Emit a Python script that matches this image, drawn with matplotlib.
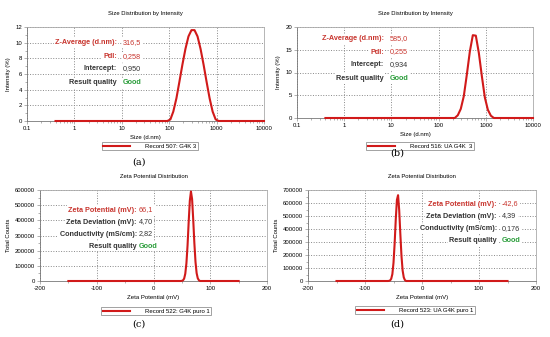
import matplotlib
matplotlib.use('Agg')
import matplotlib.pyplot as plt

plt.rcParams['font.family'] = ['Liberation Sans', 'DejaVu Sans']
plt.rcParams['axes.unicode_minus'] = False

W, H = 550, 337

# Size distribution (a): record 507 G4K 3
size_a = [0.4, 91.3, 106, 122, 142, 164, 190, 220, 255, 295, 342, 396, 459,
          531, 615, 712, 825, 955, 1106, 10000]
int_a = [0, 0, 0.2, 1.2, 2.9, 5.0, 7.2, 9.2, 10.8, 11.6, 11.6, 10.8, 9.2,
         7.2, 5.0, 2.9, 1.2, 0.2, 0, 0]

# Size distribution (b): record 516 UA G4K 3
size_b = [0.4, 220, 255, 295, 342, 396, 459, 531, 615, 712, 825, 955, 1106,
          1281, 1484, 10000]
int_b = [0, 0, 0.6, 2.0, 4.8, 9.5, 14.6, 18.2, 18.1, 14.3, 9.2, 4.5, 1.8,
         0.5, 0, 0]

# Zeta potential (c): record 522 G4K puro 1
zeta_c = [-150, 48, 50, 52, 54, 56, 58, 60, 62, 64, 66, 68, 70, 72, 74, 76,
          78, 80, 82, 150]
counts_c = [0, 0, 1000, 4400, 16000, 48000, 117000, 234000, 390000, 529000,
            590000, 540000, 405000, 250000, 126000, 52000, 18000, 5000, 0, 0]

# Zeta potential (d): record 523 UA G4K puro 1
zeta_d = [-150, -60, -58, -56, -54, -52, -50, -48, -46, -44, -42, -40, -38,
          -36, -34, -32, -30, -28, 150]
counts_d = [0, 0, 800, 4000, 17000, 53000, 140000, 288000, 476000, 624000,
            660000, 545000, 361000, 193000, 81000, 28000, 7000, 0, 0]

RED = '#d11a1a'
TXT_RED = '#c8352e'
GREEN = '#2a9d3a'
DARK = '#333333'

fig = plt.figure(figsize=(W / 100, H / 100), dpi=100)


def make_ax(x0, y0, x1, y1):
    return fig.add_axes([x0 / W, 1 - y1 / H, (x1 - x0) / W, (y1 - y0) / H])


def style(ax):
    for s in ax.spines.values():
        s.set_color('#aaaaaa')
        s.set_linewidth(0.6)
    ax.spines['left'].set_color('#777777')
    ax.spines['bottom'].set_color('#777777')
    ax.grid(True, which='major', linestyle=':', color='#888888', linewidth=0.7)
    ax.tick_params(labelsize=4.3, length=2, width=0.4, color='#777777', pad=1.5)
    ax.tick_params(which='minor', length=1.5, width=0.4, color='#777777')


def info(ax, xl, xv, ys, rows):
    box = dict(facecolor='white', edgecolor='none', pad=1.0)
    for y, (lab, val, lc, vc) in zip(ys, rows):
        ax.text(xl / W, 1 - y / H, lab, transform=fig.transFigure, ha='right',
                va='center', fontsize=5.2, fontweight='bold', color=lc, bbox=box)
        ax.text(xv / W, 1 - y / H, val, transform=fig.transFigure, ha='left',
                va='center', fontsize=5.2, color=vc, bbox=box,
                fontweight='bold' if val == 'Good' else 'normal')


def legend(ax, label, cx, cy):
    leg = ax.legend([label], loc='center', bbox_to_anchor=(cx / W, 1 - cy / H),
                    bbox_transform=fig.transFigure, fontsize=4.3, frameon=True,
                    fancybox=False, edgecolor='#777777', handlelength=4.5,
                    borderpad=0.3, handletextpad=2.5)
    leg.get_frame().set_linewidth(0.6)


def sublabel(text, cx, cy):
    fig.text(cx / W, 1 - cy / H, text, ha='center', va='center', fontsize=7,
             family='DejaVu Serif')


def curve(ax, x, y):
    ax.plot(x, y, color=RED, lw=1.5, zorder=3, clip_on=False)


# (a)
ax = make_ax(27, 27, 264, 121)
curve(ax, size_a, int_a)
ax.set_xscale('log')
ax.set_xlim(0.1, 10000)
ax.set_ylim(0, 12)
ax.set_yticks(range(0, 13, 2))
ax.set_yticks(range(1, 12, 2), minor=True)
ax.set_xticks([0.1, 1, 10, 100, 1000, 10000])
ax.set_xticklabels(['0.1', '1', '10', '100', '1000', '10000'])
style(ax)
ax.set_title('Size Distribution by Intensity', fontsize=4.2, pad=9)
ax.set_xlabel('Size (d.nm)', fontsize=4.3, labelpad=3)
ax.set_ylabel('Intensity (%)', fontsize=4.3, labelpad=3)
info(ax, 117, 123, [43, 57, 69, 83],
     [('Z-Average (d.nm):', '316,5', TXT_RED, TXT_RED),
      ('PdI:', '0,258', TXT_RED, TXT_RED),
      ('Intercept:', '0,950', DARK, DARK),
      ('Result quality', 'Good', DARK, GREEN)])
legend(ax, 'Record 507: G4K 3', 150, 146)
sublabel('(a)', 139, 162)

# (b)
ax = make_ax(297, 27, 533, 118)
curve(ax, size_b, int_b)
ax.set_xscale('log')
ax.set_xlim(0.1, 10000)
ax.set_ylim(0, 20)
ax.set_yticks(range(0, 21, 5))
ax.set_xticks([0.1, 1, 10, 100, 1000, 10000])
ax.set_xticklabels(['0.1', '1', '10', '100', '1000', '10000'])
style(ax)
ax.set_title('Size Distribution by Intensity', fontsize=4.2, pad=9)
ax.set_xlabel('Size (d.nm)', fontsize=4.3, labelpad=3)
ax.set_ylabel('Intensity (%)', fontsize=4.3, labelpad=3)
info(ax, 384, 390, [39, 52, 65, 78],
     [('Z-Average (d.nm):', '585,0', TXT_RED, TXT_RED),
      ('PdI:', '0,255', TXT_RED, TXT_RED),
      ('Intercept:', '0,934', DARK, DARK),
      ('Result quality', 'Good', DARK, GREEN)])
legend(ax, 'Record 516: UA G4K  3', 420, 146)
sublabel('(b)', 397, 153)

# (c)
ax = make_ax(40, 190, 267, 281)
curve(ax, zeta_c, counts_c)
ax.set_xlim(-200, 200)
ax.set_ylim(0, 600000)
ax.set_yticks(range(0, 600001, 100000))
ax.set_yticks(range(50000, 600000, 100000), minor=True)
ax.set_xticks([-200, -100, 0, 100, 200])
ax.set_xticks([-150, -50, 50, 150], minor=True)
style(ax)
ax.set_title('Zeta Potential Distribution', fontsize=4.2, pad=9)
ax.set_xlabel('Zeta Potential (mV)', fontsize=4.3, labelpad=3)
ax.set_ylabel('Total Counts', fontsize=4.3, labelpad=3)
info(ax, 137, 139, [210, 222, 234, 246],
     [('Zeta Potential (mV):', '66,1', TXT_RED, TXT_RED),
      ('Zeta Deviation (mV):', '4,70', DARK, DARK),
      ('Conductivity (mS/cm):', '2,82', DARK, DARK),
      ('Result quality', 'Good', DARK, GREEN)])
legend(ax, 'Record 522: G4K puro 1', 156, 311)
sublabel('(c)', 139, 324)

# (d)
ax = make_ax(308, 190, 536, 281)
curve(ax, zeta_d, counts_d)
ax.set_xlim(-200, 200)
ax.set_ylim(0, 700000)
ax.set_yticks(range(0, 700001, 100000))
ax.set_yticks(range(50000, 700000, 100000), minor=True)
ax.set_xticks([-200, -100, 0, 100, 200])
ax.set_xticks([-150, -50, 50, 150], minor=True)
style(ax)
ax.set_title('Zeta Potential Distribution', fontsize=4.2, pad=9)
ax.set_xlabel('Zeta Potential (mV)', fontsize=4.3, labelpad=3)
ax.set_ylabel('Total Counts', fontsize=4.3, labelpad=3)
info(ax, 497, 502, [204, 216, 229, 241],
     [('Zeta Potential (mV):', '-42,6', TXT_RED, TXT_RED),
      ('Zeta Deviation (mV):', '4,39', DARK, DARK),
      ('Conductivity (mS/cm):', '0,176', DARK, DARK),
      ('Result quality', 'Good', DARK, GREEN)])
legend(ax, 'Record 523: UA G4K puro 1', 415, 310)
sublabel('(d)', 397, 324)

fig.savefig('out.png', dpi=100)
